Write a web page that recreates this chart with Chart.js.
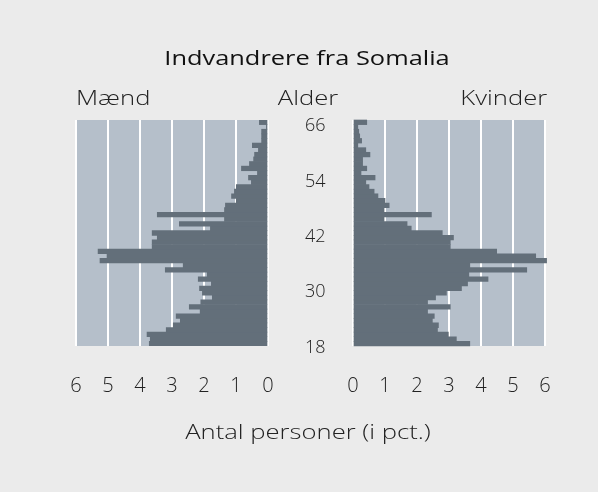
<!DOCTYPE html>
<html>
<head>
<meta charset="utf-8">
<script src="https://cdn.jsdelivr.net/npm/chart.js@4.4.1/dist/chart.umd.min.js"></script>
<style>
body { margin:0; background:#ebebeb; }
#wrap { position:relative; width:598px; height:492px; font-family:'Open Sans', sans-serif; color:#222; overflow:hidden; }
canvas { position:absolute; left:0; top:0; }
.t { position:absolute; white-space:nowrap; line-height:1; font-weight:300; font-size:21px; }
.c { transform:translate(-50%,-50%) scaleX(1.22); }
</style>
</head>
<body>
<div id="wrap">
<canvas id="men" width="598" height="492"></canvas>
<canvas id="women" width="598" height="492"></canvas>
<div class="t c" style="left:307px;top:58px;font-size:20px;font-weight:500;color:#111;transform:translate(-50%,-50%) scaleX(1.27);">Indvandrere fra Somalia</div>
<div class="t" style="left:76px;top:97px;transform-origin:left center;transform:translateY(-50%) scaleX(1.22);">Mænd</div>
<div class="t c" style="left:308px;top:97px;">Alder</div>
<div class="t" style="right:51px;top:97px;transform-origin:right center;transform:translateY(-50%) scaleX(1.22);">Kvinder</div>
<div class="t c" style="left:308px;top:431px;">Antal personer (i pct.)</div>
</div>
<script>
// alder 18..66
var ages = [];
for (var a = 18; a <= 66; a++) ages.push(a);

var maend = [3.71,3.68,3.78,3.18,2.96,2.74,2.87,2.12,2.46,2.10,
             1.74,2.05,2.14,1.77,2.18,1.90,3.21,2.65,5.25,5.03,
             5.31,3.62,3.62,3.46,3.62,1.80,2.77,1.36,3.46,1.36,
             1.33,0.99,1.14,1.05,0.99,0.52,0.61,0.33,0.83,0.58,
             0.45,0.42,0.30,0.49,0.20,0.20,0.20,0.05,0.27];

var kvinder = [3.65,3.23,2.98,2.64,2.67,2.48,2.54,2.33,3.04,2.33,
               2.58,2.92,3.39,3.58,4.22,3.62,5.43,3.65,6.05,5.71,
               4.49,3.04,3.04,3.14,2.79,1.82,1.69,0.97,2.45,0.97,
               1.13,1.00,0.78,0.66,0.50,0.40,0.69,0.25,0.43,0.30,
               0.30,0.53,0.40,0.15,0.27,0.21,0.18,0.15,0.43];

var pctTicks = [0,1,2,3,4,5,6];
var ageTicks = [18,30,42,54,66];

var panelBg = {
    id: 'panelBg',
    beforeDraw: function(chart) {
        var c = chart.chartArea, ctx = chart.ctx;
        ctx.save();
        ctx.fillStyle = '#b5bfca';
        ctx.fillRect(c.left, c.top, c.right - c.left, c.bottom - c.top);
        ctx.restore();
    }
};

function xScale(rev) {
    return {
        min: pctTicks[0], max: pctTicks[pctTicks.length - 1], reverse: rev,
        ticks: { stepSize: 1, padding: 28, color: '#222', font: { family: 'Open Sans', size: 20, weight: 300 } },
        grid: { color: '#ffffff', lineWidth: 2, drawTicks: false },
        border: { display: false },
        afterFit: function(s) { s.height = 50; }
    };
}

var rel1 = new Chart(document.getElementById('men'), {
    type: 'bar',
    data: {
        labels: ages,
        datasets: [{
            label: 'Mænd',
            data: maend,
            backgroundColor: '#636f7a',
            borderWidth: 0,
            barPercentage: 1,
            categoryPercentage: 1
        }]
    },
    options: {
        indexAxis: 'y',
        responsive: false,
        animation: false,
        layout: { padding: { left: 76, top: 120, right: 244, bottom: 96 } },
        plugins: { legend: { display: false }, tooltip: { enabled: false } },
        scales: {
            x: xScale(true),
            y: {
                position: 'right', reverse: true,
                grid: { display: false }, border: { display: false },
                ticks: {
                    autoSkip: false, crossAlign: 'center', padding: 29, labelOffset: 4, color: '#222',
                    font: { family: 'Open Sans', size: 18, weight: 300 },
                    callback: function(v, i) { return ageTicks.indexOf(ages[i]) >= 0 ? ages[i] : ''; }
                },
                afterFit: function(s) { s.width = 86; }
            }
        }
    },
    plugins: [panelBg]
});

var rel2 = new Chart(document.getElementById('women'), {
    type: 'bar',
    data: {
        labels: ages,
        datasets: [{
            label: 'Kvinder',
            data: kvinder,
            backgroundColor: '#636f7a',
            borderWidth: 0,
            barPercentage: 1,
            categoryPercentage: 1,
            clip: false
        }]
    },
    options: {
        indexAxis: 'y',
        responsive: false,
        animation: false,
        layout: { padding: { left: 353, top: 120, right: 53, bottom: 96 } },
        plugins: { legend: { display: false }, tooltip: { enabled: false } },
        scales: {
            x: xScale(false),
            y: { display: false, reverse: true }
        }
    },
    plugins: [panelBg]
});
</script>
</body>
</html>
